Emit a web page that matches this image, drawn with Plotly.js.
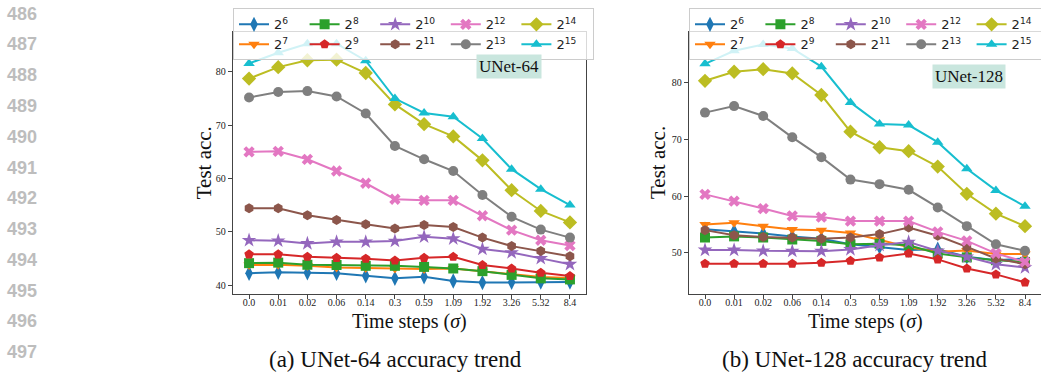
<!DOCTYPE html>
<html><head><meta charset="utf-8">
<script src="https://cdn.plot.ly/plotly-3.0.1.min.js"></script>
<style>
html,body{margin:0;padding:0;width:1041px;height:379px;overflow:hidden;background:#fff;}
#a{position:absolute;left:0;top:0;width:600px;height:379px;}
#b{position:absolute;left:620px;top:0;width:440px;height:379px;}
.ln{position:absolute;left:7px;font-family:'Liberation Sans',Arial,sans-serif;font-weight:bold;font-size:18px;line-height:18px;color:#bdbdbd;}
</style></head><body>
<div id="lines"></div>
<div id="a"></div><div id="b"></div>
<script>
// ---- data ----
const timeSteps = ['0.0','0.01','0.02','0.06','0.14','0.3','0.59','1.09','1.92','3.26','5.32','8.4'];
const seriesNames = ['2<sup>6</sup>','2<sup>7</sup>','2<sup>8</sup>','2<sup>9</sup>','2<sup>10</sup>','2<sup>11</sup>','2<sup>12</sup>','2<sup>13</sup>','2<sup>14</sup>','2<sup>15</sup>'];
const lineNumbers = [486,487,488,489,490,491,492,493,494,495,496,497];

// UNet-64
const a_p6  = [42.2, 42.4, 42.3, 42.2, 41.75, 41.25, 41.55, 40.75, 40.45, 40.5, 40.55, 40.55];
const a_p7  = [43.75, 43.8, 43.6, 43.3, 43.2, 43.1, 43.0, 43.1, 42.6, 42.0, 41.5, 41.3];
const a_p8  = [44.1, 44.2, 43.8, 43.75, 43.6, 43.6, 43.4, 43.1, 42.6, 41.9, 41.25, 41.05];
const a_p9  = [45.75, 45.75, 45.3, 45.1, 44.95, 44.6, 45.1, 45.3, 43.75, 43.1, 42.3, 41.7];
const a_p10 = [48.4, 48.3, 47.8, 48.1, 48.1, 48.25, 49.05, 48.7, 46.75, 46.1, 45.0, 43.9];
const a_p11 = [54.4, 54.4, 53.1, 52.2, 51.4, 50.6, 51.25, 50.9, 48.9, 47.3, 46.4, 45.4];
const a_p12 = [65.0, 65.1, 63.6, 61.4, 59.1, 56.1, 55.9, 55.9, 53.0, 50.3, 48.4, 47.4];
const a_p13 = [75.2, 76.25, 76.4, 75.4, 72.2, 66.1, 63.6, 61.4, 56.9, 52.8, 50.4, 48.9];
const a_p14 = [78.75, 80.9, 82.2, 82.3, 79.8, 73.9, 70.2, 67.9, 63.4, 57.8, 53.9, 51.75];
const a_p15 = [81.6, 83.6, 85.3, 85.3, 82.1, 75.0, 72.3, 71.6, 67.5, 61.75, 58.0, 55.0];

// UNet-128
const b_p6  = [54.15, 53.8, 53.4, 52.9, 52.5, 51.5, 51.05, 50.5, 50.65, 49.3, 48.7, 49.0];
const b_p7  = [55.0, 55.3, 54.7, 54.1, 54.0, 53.5, 52.3, 51.0, 50.2, 50.4, 49.8, 49.8];
const b_p8  = [52.7, 52.9, 52.7, 52.35, 52.1, 51.5, 51.6, 51.35, 49.9, 49.2, 48.7, 48.4];
const b_p9  = [48.1, 48.1, 48.1, 48.1, 48.25, 48.6, 49.2, 49.9, 48.85, 47.25, 46.2, 44.8];
const b_p10 = [50.5, 50.5, 50.35, 50.3, 50.3, 50.6, 51.35, 51.9, 50.35, 49.3, 48.0, 47.4];
const b_p11 = [54.0, 53.1, 52.8, 52.7, 52.5, 52.7, 53.3, 54.45, 53.0, 51.05, 49.0, 48.0];
const b_p12 = [60.3, 59.1, 57.8, 56.5, 56.3, 55.6, 55.6, 55.6, 53.7, 52.1, 49.9, 48.4];
const b_p13 = [74.7, 75.85, 74.1, 70.35, 66.85, 62.9, 62.1, 61.1, 58.0, 54.7, 51.5, 50.35];
const b_p14 = [80.3, 81.9, 82.35, 81.6, 77.8, 71.35, 68.6, 67.9, 65.2, 60.4, 56.9, 54.7];
const b_p15 = [83.3, 85.6, 86.7, 86.0, 82.8, 76.5, 72.7, 72.5, 69.5, 64.8, 61.0, 58.2];

// ---- styles ----
const colors = ['#1f77b4','#ff7f0e','#2ca02c','#d62728','#9467bd','#8c564b','#e377c2','#7f7f7f','#bcbd22','#17becf'];
const symbols = ['diamond-tall','triangle-down','square','pentagon','star','hexagon','x','circle','diamond','triangle-up'];
const sizes = [11, 10, 10, 10, 11, 10, 10, 10, 11, 10];
const ranks = [1, 6, 2, 7, 3, 8, 4, 9, 5, 10];

const SERIF = 'Liberation Serif, Times New Roman, serif';

function makeTraces(list) {
  return list.map((vals, i) => ({
    type: 'scatter', mode: 'lines+markers',
    x: timeSteps, y: vals, name: seriesNames[i],
    legendrank: ranks[i],
    line: {color: colors[i], width: 2},
    marker: {color: colors[i], symbol: symbols[i], size: sizes[i], line: {width: 0}},
    hoverinfo: 'skip'
  }));
}

function makeLayout(opts) {
  const axisCommon = {
    showline: true, mirror: true, linecolor: '#444', linewidth: 1.3,
    ticks: 'outside', ticklen: 4, tickwidth: 1, tickcolor: '#444',
    tickfont: {family: SERIF, size: 10, color: '#222'},
    showgrid: false, zeroline: false, fixedrange: true
  };
  return {
    width: opts.w, height: 379,
    margin: {l: opts.l, r: opts.r, t: 31.7, b: 85, autoexpand: false},
    paper_bgcolor: 'rgba(0,0,0,0)', plot_bgcolor: '#fff',
    showlegend: true,
    legend: {
      orientation: 'h', x: 0, xanchor: 'left', y: 1.09, yanchor: 'top',
      bgcolor: 'rgba(255,255,255,0.8)', bordercolor: '#cccccc', borderwidth: 1,
      font: {family: 'DejaVu Sans, sans-serif', size: 13, color: '#222'},
      entrywidth: 0.2, entrywidthmode: 'fraction', itemwidth: 30
    },
    xaxis: Object.assign({}, axisCommon, {type: 'category', range: [-0.55, 11.55], ticklabelstandoff: -5}),
    yaxis: Object.assign({}, axisCommon, {range: opts.yr, tickvals: opts.yt}),
    annotations: [
      {xref: 'paper', yref: 'paper', x: opts.boxX, y: opts.boxY, text: opts.tag, showarrow: false,
       bgcolor: '#c9e6de', borderpad: 2, font: {family: SERIF, size: 17, color: '#111'},
       xanchor: 'center', yanchor: 'middle'},
      {xref: 'paper', yref: 'paper', x: 0.5, y: -0.104, text: 'Time steps (<i>σ</i>)', showarrow: false,
       font: {family: SERIF, size: 20, color: '#111'}, xanchor: 'center', yanchor: 'middle'},
      {xref: 'paper', yref: 'paper', x: opts.ytX, y: 0.5, text: 'Test acc.', showarrow: false, textangle: -90,
       font: {family: SERIF, size: 21, color: '#111'}, xanchor: 'center', yanchor: 'middle'},
      {xref: 'paper', yref: 'paper', x: opts.capX, y: -0.2516, text: opts.caption, showarrow: false,
       font: {family: SERIF, size: 23, color: '#111'}, xanchor: 'center', yanchor: 'middle'}
    ]
  };
}

const cfg = {staticPlot: true, displayModeBar: false};

Plotly.newPlot('a',
  makeTraces([a_p6,a_p7,a_p8,a_p9,a_p10,a_p11,a_p12,a_p13,a_p14,a_p15]),
  makeLayout({w: 600, l: 232.7, r: 14.3, yr: [38.31, 87.5], yt: [40,50,60,70,80],
    tag: 'UNet-64', boxX: 0.782, boxY: 0.868, ytX: -0.0813, capX: 0.4612,
    caption: '(a) UNet-64 accuracy trend'}), cfg);

Plotly.newPlot('b',
  makeTraces([b_p6,b_p7,b_p8,b_p9,b_p10,b_p11,b_p12,b_p13,b_p14,b_p15]),
  makeLayout({w: 440, l: 69, r: 19, yr: [42.75, 88.9], yt: [50,60,70,80],
    tag: 'UNet-128', boxX: 0.795, boxY: 0.83, ytX: -0.088, capX: 0.473,
    caption: '(b) UNet-128 accuracy trend'}), cfg);

// line numbers in the left margin
const ln = document.getElementById('lines');
lineNumbers.forEach((n, i) => {
  const d = document.createElement('div');
  d.className = 'ln';
  d.textContent = n;
  d.style.top = (13.7 + i * 30.76 - 9) + 'px';
  ln.appendChild(d);
});
</script>
</body></html>
